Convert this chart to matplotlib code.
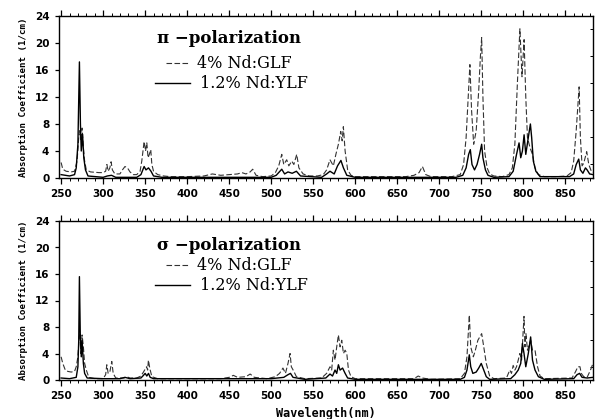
import matplotlib
matplotlib.use("Agg")
import matplotlib.pyplot as plt
from matplotlib.ticker import MultipleLocator

# ---------------- data ----------------
# top panel, pi-polarization, 4% Nd:GLF (dashed)
pi_glf_wl = [250, 252, 256, 262, 266, 269, 271, 272, 273.5, 275, 276.5, 278, 280, 285, 295, 300,
             303, 304.5, 306, 308, 309.5, 311, 314, 320, 323, 326, 329, 332, 336, 340, 344, 346,
             348.8, 350.5, 352, 353.5, 355, 356.7, 358, 360, 365, 372, 380, 400, 420, 430, 440,
             450, 460, 465, 470, 475, 478, 482, 490, 500, 505, 509, 512.6, 515, 518.5, 521, 524.5,
             527, 530.4, 533, 538, 545, 555, 562, 566, 570, 574, 577, 580, 582.8, 584.5, 585.9,
             588, 591, 595, 600, 620, 640, 660, 670, 676, 680, 684, 690, 700, 715, 725, 729, 732,
             734.5, 736.5, 738.5, 741, 744, 747, 749, 750.5, 752, 754, 757, 760, 765, 775, 783,
             787, 790, 793, 796, 798.5, 801, 803, 805, 808, 811, 814, 818, 825, 840, 852, 857,
             860, 863, 866.5, 868, 870, 872, 875.5, 878, 881, 883]
pi_glf_val = [2.3, 1.3, 1.0, 0.9, 1.0, 2.5, 6.0, 7.0, 5.5, 7.4, 4.5, 2.5, 1.2, 0.9, 0.8, 0.8,
              1.0, 2.0, 1.0, 1.5, 2.4, 1.2, 0.6, 0.6, 1.2, 1.7, 1.5, 0.9, 0.5, 0.5, 1.0, 2.5,
              5.4, 4.0, 5.2, 3.0, 3.5, 4.2, 2.0, 1.0, 0.5, 0.3, 0.2, 0.2, 0.3, 0.6, 0.4,
              0.5, 0.6, 0.8, 0.6, 0.9, 1.3, 0.4, 0.2, 0.3, 0.8, 1.8, 3.5, 2.0, 2.7, 1.8, 2.5,
              2.0, 3.5, 1.5, 0.6, 0.3, 0.3, 0.5, 1.2, 2.7, 1.8, 3.5, 5.0, 6.9, 5.5, 7.6,
              4.0, 1.2, 0.4, 0.2, 0.2, 0.2, 0.2, 0.4, 0.8, 1.7, 0.5, 0.2, 0.2, 0.2, 0.5, 2.0, 6.0,
              12.0, 16.8, 10.0, 5.0, 7.0, 13.0, 18.0, 20.8, 12.0, 4.0, 1.5, 0.6, 0.3, 0.2, 0.5,
              1.5, 5.0, 14.0, 22.1, 15.0, 20.5, 12.0, 6.0, 4.5, 3.5, 1.5, 0.5, 0.2, 0.2, 0.3, 0.8,
              2.5, 7.0, 13.5, 6.0, 1.8, 2.2, 3.9, 2.0, 1.0, 0.8]

# top panel, pi-polarization, 1.2% Nd:YLF (solid)
pi_ylf_wl = [250, 260, 266, 268, 270, 271.8, 273, 274, 275.5, 277, 279, 282, 300, 305, 310, 315,
             340, 345, 348.8, 351, 354, 357, 360, 370, 500, 506, 512.6, 516, 520, 525, 530, 535,
             560, 566, 570, 575, 579, 583, 586, 590, 600, 720, 728, 732, 735, 737, 739, 742, 745,
             748, 750.5, 752, 755, 758, 765, 783, 788, 792, 795, 797, 799, 801, 803, 806, 808.5,
             810, 812, 815, 820, 855, 860, 863, 866, 868, 871, 874, 876, 879, 883]
pi_ylf_val = [0.5, 0.3, 0.5, 1.5, 5.0, 17.2, 8.0, 4.0, 6.5, 3.0, 1.2, 0.3, 0.1, 0.3, 0.4, 0.1,
              0.1, 0.5, 1.7, 1.2, 1.5, 1.0, 0.3, 0.1, 0.1, 0.4, 1.3, 0.6, 0.9, 0.7, 1.0, 0.3,
              0.1, 0.6, 1.0, 0.6, 1.8, 2.6, 1.5, 0.4, 0.1, 0.1, 0.4, 1.5, 3.5, 4.2, 2.0, 1.2, 2.0,
              3.5, 5.0, 3.0, 1.2, 0.4, 0.1, 0.2, 1.0, 3.5, 5.2, 3.0, 4.0, 6.4, 3.5, 6.0, 8.0,
              6.0, 2.5, 1.0, 0.2, 0.2, 0.6, 2.0, 2.8, 1.2, 0.7, 1.5, 1.2, 0.6, 0.5]

# bottom panel, sigma-polarization, 4% Nd:GLF (dashed)
sg_glf_wl = [250, 252, 255, 258, 262, 266, 268, 270, 271.5, 272.5, 273.5, 275, 276.5, 278, 280, 283,
             290, 300, 303, 304.4, 306, 308, 310.3, 312, 315, 325, 328, 332, 340, 345, 348, 351.7,
             353, 353.9, 355.5, 358, 365, 440, 450, 455, 460, 470, 475, 480, 495, 505, 510, 514,
             517, 520, 522.5, 524, 527, 530, 540, 560, 566, 570, 572, 574, 576, 578, 580, 582,
             584, 586, 588, 590, 592, 595, 600, 670, 675, 680, 690, 725, 730, 733, 735.8, 737.5,
             740.6, 743, 746, 750.5, 753, 756, 760, 765, 780, 784, 786, 788, 790, 792, 794, 796,
             798, 800.9, 802, 803.2, 805, 808.8, 811, 814, 817, 820, 825, 858, 862, 865, 867.5,
             869, 872, 876, 880, 883]
sg_glf_val = [3.5, 2.5, 1.5, 1.3, 1.2, 1.3, 2.0, 3.5, 6.5, 7.0, 4.0, 6.8, 5.0, 2.5, 1.5, 0.4,
              0.2, 0.2, 0.8, 2.3, 1.0, 1.2, 2.8, 1.0, 0.3, 0.3, 0.5, 0.3, 0.3, 0.6, 1.2, 2.0,
              1.5, 3.0, 1.8, 0.5, 0.2, 0.2, 0.4, 0.7, 0.4, 0.5, 0.9, 0.4, 0.2, 0.5, 1.0, 1.8,
              1.0, 2.5, 4.0, 2.0, 1.3, 0.5, 0.2, 0.3, 1.0, 2.0, 1.5, 4.5, 3.0, 5.0, 6.8, 5.0,
              6.0, 4.0, 4.5, 4.0, 1.5, 0.5, 0.2, 0.2, 0.6, 0.3, 0.1, 0.2, 1.0, 3.5, 9.8, 5.0,
              3.5, 4.5, 6.0, 7.0, 5.0, 2.5, 0.6, 0.2, 0.3, 1.5, 1.0, 2.2, 1.5, 2.0, 3.0, 4.0,
              3.0, 9.6, 5.0, 7.0, 4.5, 6.0, 4.5, 4.5, 2.0, 0.6, 0.2, 0.3, 1.2, 2.0, 2.0,
              1.0, 0.5, 0.4, 1.5, 2.5]

# bottom panel, sigma-polarization, 1.2% Nd:YLF (solid)
sg_ylf_wl = [250, 260, 268, 270, 271, 271.8, 272.8, 274, 275, 276.5, 278, 281, 300, 320, 326, 332,
             345, 348, 350, 352, 354, 356, 360, 500, 515, 520, 523, 526, 540, 565, 570, 573, 576,
             578, 580, 582, 585, 588, 591, 600, 725, 730, 733, 735.8, 737.5, 740, 744, 747, 750,
             753, 756, 760, 785, 790, 794, 797, 799, 800.9, 803, 806, 808.8, 811, 814, 818, 825,
             860, 864, 867, 870, 876, 883]
sg_ylf_val = [0.3, 0.2, 0.4, 2.0, 6.0, 15.6, 7.0, 3.5, 6.0, 2.5, 1.0, 0.3, 0.2, 0.2, 0.4, 0.2,
              0.3, 0.7, 1.0, 0.6, 1.0, 0.4, 0.2, 0.2, 0.4, 0.8, 1.0, 0.4, 0.1, 0.3, 0.9, 0.6, 1.5,
              1.0, 2.3, 1.5, 1.8, 1.0, 0.3, 0.1, 0.1, 0.4, 1.5, 3.8, 2.0, 1.0, 1.2, 1.8, 2.5,
              1.5, 0.5, 0.1, 0.2, 0.8, 1.5, 2.5, 5.5, 4.0, 2.0, 4.0, 6.5, 3.0, 1.5, 0.5, 0.1,
              0.2, 0.8, 1.0, 0.4, 0.3, 0.4]

x_ticks = [250, 300, 350, 400, 450, 500, 550, 600, 650, 700, 750, 800, 850]
y_ticks = [0, 4, 8, 12, 16, 20, 24]
titles = ["\u03c0 \u2212polarization", "\u03c3 \u2212polarization"]
label_glf = "4% Nd:GLF"
label_ylf = "1.2% Nd:YLF"
ylabel = "Absorption Coefficient (1/cm)"
xlabel = "Wavelength(nm)"

# ---------------- figure ----------------
W, H = 603, 419
fig = plt.figure(figsize=(W / 100, H / 100), dpi=100)

def ax_rect(l, r, t, b):
    return [l / W, 1 - b / H, (r - l) / W, (b - t) / H]

ax_top = fig.add_axes(ax_rect(59, 593, 16, 178))
ax_bot = fig.add_axes(ax_rect(59, 593, 221, 380))

serif = ["DejaVu Serif"]
tickfont = dict(family="DejaVu Sans", weight="bold", size=7.5)

dash = (0, (5, 2.2))
panels = [
    (ax_top, pi_glf_wl, pi_glf_val, pi_ylf_wl, pi_ylf_val, titles[0],
     (0.862, 0.708, 0.585)),
    (ax_bot, sg_glf_wl, sg_glf_val, sg_ylf_wl, sg_ylf_val, titles[1],
     (0.847, 0.722, 0.596)),
]

for ax, gw, gv, yw, yv, title, ys in panels:
    ax.plot(gw, gv, color="#333333", lw=0.8, linestyle=dash)
    ax.plot(yw, yv, color="black", lw=1.0)
    ax.set_xlim(247.5, 883)
    ax.set_ylim(0, 24)
    ax.set_xticks(x_ticks)
    ax.set_yticks(y_ticks)
    ax.xaxis.set_minor_locator(MultipleLocator(10))
    ax.yaxis.set_minor_locator(MultipleLocator(2))
    ax.tick_params(axis="x", which="major", direction="out", length=4, width=0.9,
                   top=True, bottom=True, pad=4)
    ax.tick_params(axis="x", which="minor", direction="out", length=2, width=0.7,
                   top=True, bottom=True)
    ax.tick_params(axis="y", which="major", direction="out", length=3, width=0.9,
                   left=True, right=False, pad=4)
    ax.tick_params(axis="y", which="minor", direction="in", length=2.5, width=0.7,
                   left=False, right=True)
    for lab in ax.get_xticklabels() + ax.get_yticklabels():
        lab.set_fontfamily(tickfont["family"])
        lab.set_fontweight(tickfont["weight"])
        lab.set_fontsize(tickfont["size"])
    for sp in ax.spines.values():
        sp.set_linewidth(1.0)
    ax.set_ylabel(ylabel, family="DejaVu Sans Mono", weight="bold", fontsize=6.6,
                  labelpad=5)

    # in-plot legend
    ax.text(0.183, ys[0], title, transform=ax.transAxes, family=serif,
            fontsize=12, weight="semibold", va="center", ha="left")
    ax.plot([0.20, 0.245], [ys[1], ys[1]], transform=ax.transAxes,
            color="#333333", lw=0.8, linestyle=dash)
    ax.text(0.259, ys[1], label_glf, transform=ax.transAxes, family=serif,
            fontsize=11.5, va="center", ha="left")
    ax.plot([0.18, 0.245], [ys[2], ys[2]], transform=ax.transAxes,
            color="black", lw=1.0)
    ax.text(0.264, ys[2], label_ylf, transform=ax.transAxes, family=serif,
            fontsize=11.5, va="center", ha="left")

ax_bot.set_xlabel(xlabel, family="DejaVu Sans Mono", weight="bold", fontsize=8.5,
                  labelpad=4)

fig.savefig("out.png", dpi=100)
